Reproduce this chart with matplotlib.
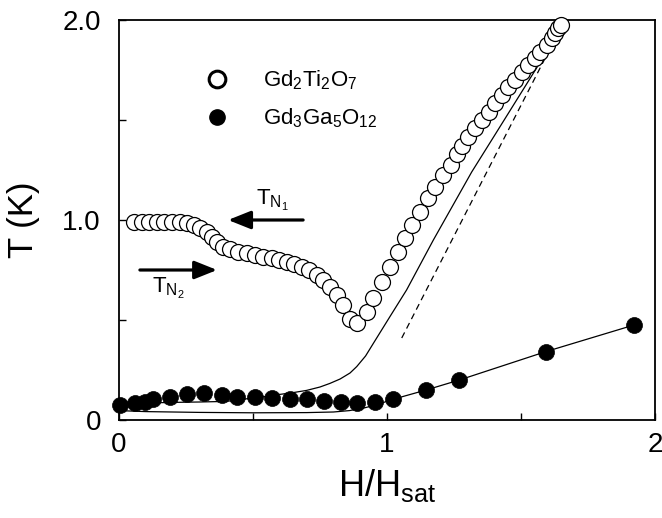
import matplotlib
matplotlib.use("Agg")
import matplotlib.pyplot as plt
from matplotlib.lines import Line2D

plt.rcParams['font.family'] = ['Liberation Sans', 'DejaVu Sans']
plt.rcParams['mathtext.fontset'] = 'custom'
plt.rcParams['mathtext.rm'] = 'Liberation Sans'
plt.rcParams['mathtext.it'] = 'Liberation Sans:italic'
plt.rcParams['mathtext.bf'] = 'Liberation Sans:bold'

# Gd2Ti2O7 (open circles)
gto_h = [0.056, 0.085, 0.113, 0.141, 0.169, 0.199, 0.228, 0.255, 0.280, 0.302,
         0.327, 0.346, 0.364, 0.389, 0.414, 0.445, 0.476, 0.507, 0.539, 0.570,
         0.598, 0.626, 0.654, 0.682, 0.710, 0.738, 0.762, 0.787, 0.812, 0.837,
         0.862, 0.889, 0.924, 0.949, 0.980, 1.010, 1.040, 1.067, 1.092, 1.123,
         1.152, 1.179, 1.210, 1.238, 1.260, 1.280, 1.303, 1.328, 1.353, 1.381,
         1.403, 1.428, 1.453, 1.478, 1.503, 1.527, 1.552, 1.571, 1.596, 1.614,
         1.627, 1.639, 1.648]
gto_t = [0.990, 0.990, 0.990, 0.990, 0.990, 0.990, 0.990, 0.985, 0.975, 0.960,
         0.940, 0.915, 0.890, 0.867, 0.853, 0.842, 0.833, 0.825, 0.817, 0.808,
         0.800, 0.792, 0.780, 0.767, 0.750, 0.725, 0.700, 0.667, 0.625, 0.575,
         0.505, 0.487, 0.542, 0.610, 0.688, 0.767, 0.840, 0.908, 0.975, 1.042,
         1.108, 1.167, 1.225, 1.275, 1.330, 1.370, 1.417, 1.458, 1.500, 1.542,
         1.583, 1.625, 1.667, 1.700, 1.742, 1.775, 1.808, 1.842, 1.875, 1.908,
         1.933, 1.958, 1.975]

# Gd3Ga5O12 (filled circles)
ggg_h = [0.004, 0.060, 0.097, 0.128, 0.190, 0.255, 0.318, 0.383, 0.441, 0.507,
         0.572, 0.638, 0.700, 0.765, 0.827, 0.889, 0.955, 1.021, 1.146, 1.270,
         1.593, 1.922]
ggg_t = [0.075, 0.083, 0.092, 0.103, 0.117, 0.130, 0.135, 0.127, 0.115, 0.113,
         0.112, 0.105, 0.103, 0.095, 0.088, 0.087, 0.092, 0.103, 0.150, 0.200,
         0.342, 0.475]

# theory curve (upper solid line)
th1_h = [0.0, 0.1, 0.2, 0.3, 0.4, 0.5, 0.563, 0.6, 0.65, 0.7, 0.75, 0.787,
         0.825, 0.862, 0.887, 0.92, 0.949, 0.98, 1.011, 1.073, 1.173, 1.316,
         1.4, 1.5, 1.6, 1.645]
th1_t = [0.085, 0.085, 0.088, 0.090, 0.093, 0.110, 0.120, 0.128, 0.137, 0.148,
         0.165, 0.183, 0.205, 0.235, 0.267, 0.320, 0.383, 0.450, 0.517, 0.650,
         0.900, 1.240, 1.420, 1.635, 1.850, 1.950]

# lower solid line (through Gd3Ga5O12 points at high field)
th2_h = [0.0, 0.1, 0.3, 0.5, 0.7, 0.8, 0.86, 0.92, 0.97, 1.021, 1.146, 1.270,
         1.593, 1.922]
th2_t = [0.047, 0.042, 0.038, 0.036, 0.037, 0.040, 0.047, 0.062, 0.080, 0.103,
         0.150, 0.200, 0.342, 0.475]

# dashed line
dash_h = [1.055, 1.642]
dash_t = [0.410, 1.945]

x_ticks = [0, 0.5, 1, 1.5, 2]
x_labels = ['0', '', '1', '', '2']
y_ticks = [0, 0.5, 1.0, 1.5, 2.0]
y_labels = ['0', '', '1.0', '', '2.0']

fig = plt.figure(figsize=(6.62, 5.18), dpi=100)
ax = fig.add_axes([119/662, 98/518, 536/662, 400/518])

ax.plot(th1_h, th1_t, '-', color='black', lw=0.9, zorder=2)
ax.plot(th2_h, th2_t, '-', color='black', lw=0.9, zorder=2)
ax.plot(dash_h, dash_t, '--', color='black', lw=0.9, dashes=(5, 3.5), zorder=2)

ax.plot(gto_h, gto_t, 'o', ms=11.5, mfc='white', mec='black', mew=0.9,
        linestyle='none', zorder=3, clip_on=False)
ax.plot(ggg_h, ggg_t, 'o', ms=11.5, mfc='black', mec='black', mew=0.5,
        linestyle='none', zorder=4, clip_on=False)

# arrows and labels
arrow_style = '-|>,head_length=0.55,head_width=0.22'
ax.annotate('', xy=(0.407, 1.0), xytext=(0.687, 1.0),
            arrowprops=dict(arrowstyle=arrow_style, lw=2.3, color='black',
                            mutation_scale=25, shrinkA=0, shrinkB=0))
ax.annotate('', xy=(0.366, 0.75), xytext=(0.078, 0.75),
            arrowprops=dict(arrowstyle=arrow_style, lw=2.3, color='black',
                            mutation_scale=25, shrinkA=0, shrinkB=0))
ax.text(0.513, 1.075, r'$\mathregular{T_{N_1}}$', fontsize=16, va='baseline', ha='left')
ax.text(0.125, 0.635, r'$\mathregular{T_{N_2}}$', fontsize=16, va='baseline', ha='left')

handles = [Line2D([], [], marker='o', ls='none', ms=12, mfc='white', mec='black', mew=2.2),
           Line2D([], [], marker='o', ls='none', ms=11, mfc='black', mec='black')]
labels = [r'$\mathregular{Gd_2Ti_2O_7}$', r'$\mathregular{Gd_3Ga_5O_{12}}$']
ax.legend(handles, labels, loc='upper left', bbox_to_anchor=(0.163, 0.878),
          frameon=False, fontsize=16, handlelength=1.0, handletextpad=1.55,
          labelspacing=0.65, borderpad=0, borderaxespad=0)

ax.set_xlim(0, 2)
ax.set_ylim(0, 2)
ax.set_xticks(x_ticks)
ax.set_xticklabels(x_labels)
ax.set_yticks(y_ticks)
ax.set_yticklabels(y_labels)
ax.tick_params(direction='in', length=5, width=1, labelsize=20)
ax.tick_params(axis='x', pad=9)
ax.tick_params(axis='y', pad=13)
for s in ax.spines.values():
    s.set_linewidth(1.3)

ax.set_xlabel(r'$\mathregular{H/H_{sat}}$', fontsize=26, labelpad=6)
ax.set_ylabel('T (K)', fontsize=25, labelpad=16)

fig.savefig('out.png', dpi=100)
